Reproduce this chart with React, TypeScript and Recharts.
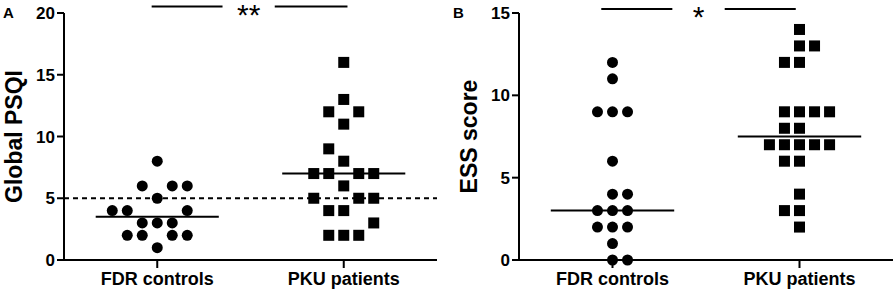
import React from "react";
import {
  ScatterChart,
  Scatter,
  XAxis,
  YAxis,
  ReferenceLine,
  ReferenceDot,
  Label,
} from "recharts";

const groups = ["FDR controls", "PKU patients"];

// panel A: global PSQI (value + column within the dot stack)
const fdrPsqi = [8, 6, 6, 6, 5, 4, 4, 4, 3, 3, 3, 2, 2, 2, 2, 1];
const fdrPsqiCol = [0, -1, 1, 2, 0, -3, -2, 2, -1, 0, 1, -2, -1, 1, 2, 0];
const pkuPsqi = [16, 13, 12, 12, 11, 9, 8, 7, 7, 7, 7, 6, 5, 5, 5, 4, 4, 3, 2, 2, 2];
const pkuPsqiCol = [0, 0, -1, 1, 0, -1, 0, -2, -1, 1, 2, 0, -2, 1, 2, -1, 0, 2, -1, 0, 1];
const psqiMedians = [3.5, 7];
const psqiCutoff = 5;
const psqiTicks = [0, 5, 10, 15, 20];

// panel B: ESS score
const fdrEss = [12, 11, 9, 9, 9, 6, 4, 4, 3, 3, 3, 2, 2, 2, 1, 0, 0];
const fdrEssCol = [0, 0, -1, 0, 1, 0, 0, 1, -1, 0, 1, -1, 0, 1, 0, 0, 1];
const pkuEss = [14, 13, 13, 12, 12, 9, 9, 9, 9, 8, 8, 7, 7, 7, 7, 7, 6, 6, 4, 3, 3, 2];
const pkuEssCol = [0, 0, 1, -1, 0, -1, 0, 1, 2, -1, 0, -2, -1, 0, 1, 2, -1, 0, 0, -1, 0, 0];
const essMedians = [3, 7.5];
const essTicks = [0, 5, 10, 15];

const FONT = "'Liberation Sans', Arial, sans-serif";
const STEP = 0.0804; // one dot column, in x units
const HALF = 0.33; // half width of the median bar

const toPoints = (vals: number[], cols: number[], g: number) =>
  vals.map((v, i) => ({ x: g + 0.5 + cols[i] * STEP, y: v }));

const Dot = (p: any) => <circle cx={p.cx} cy={p.cy} r={5.5} fill="#000" />;
const Sq = (p: any) => (
  <rect x={p.cx - 5.5} y={p.cy - 5.5} width={11} height={11} fill="#000" />
);

const YTitle = (props: any) => {
  const vb = props.viewBox || {};
  const x = vb.x + vb.width - 42;
  const cy = vb.y + vb.height / 2;
  return (
    <text
      x={x}
      y={cy}
      transform={`rotate(-90 ${x} ${cy})`}
      textAnchor="middle"
      fontFamily={FONT}
      fontWeight="bold"
      fontSize={23}
      fill="#000"
    >
      {props.text}
    </text>
  );
};

// asterisks sit just under the bracket line
const Stars = (props: any) => {
  const vb = props.viewBox || {};
  return (
    <text
      x={vb.x}
      y={vb.y + 18}
      textAnchor="middle"
      fontFamily={FONT}
      fontSize={30}
      fill="#000"
    >
      {props.text}
    </text>
  );
};

interface PanelProps {
  letter: string;
  yTitle: string;
  ticks: number[];
  ctrl: { x: number; y: number }[];
  pku: { x: number; y: number }[];
  medians: number[];
  cutoff?: number;
  sig: string;
  sigY: number;
  sigX: number[];
  yWidth: number;
  right: number;
  left: number;
}

const Panel: React.FC<PanelProps> = (p) => {
  const top = p.ticks[p.ticks.length - 1];
  const tickStyle = { fill: "#000", fontSize: 17, fontWeight: "bold", fontFamily: FONT };
  return (
    <div style={{ position: "absolute", left: p.left, top: 0, width: 448, height: 293 }}>
      <ScatterChart
        width={448}
        height={293}
        margin={{ top: 13, right: p.right, bottom: 0, left: 0 }}
      >
        <XAxis
          type="number"
          dataKey="x"
          domain={[0, 2]}
          ticks={[0.5, 1.5]}
          tickFormatter={(v: number) => groups[Math.floor(v)]}
          axisLine={{ stroke: "#000", strokeWidth: 2 }}
          tickLine={{ stroke: "#000", strokeWidth: 2 }}
          tickSize={8}
          tickMargin={4}
          height={33}
          tick={{ ...tickStyle, fontSize: 18 }}
          allowDataOverflow
        />
        <YAxis
          type="number"
          dataKey="y"
          domain={[0, top]}
          ticks={p.ticks}
          width={p.yWidth}
          axisLine={{ stroke: "#000", strokeWidth: 2 }}
          tickLine={{ stroke: "#000", strokeWidth: 2 }}
          tickSize={7}
          tickMargin={2}
          tick={tickStyle}
        >
          <Label content={(lp: any) => <YTitle {...lp} text={p.yTitle} />} />
        </YAxis>
        {p.cutoff !== undefined && (
          <ReferenceLine
            y={p.cutoff}
            stroke="#000"
            strokeWidth={2}
            strokeDasharray="5 4"
          />
        )}
        {p.medians.map((m, g) => (
          <ReferenceLine
            key={g}
            segment={[
              { x: g + 0.5 - HALF, y: m },
              { x: g + 0.5 + HALF, y: m },
            ]}
            stroke="#000"
            strokeWidth={2}
          />
        ))}
        <ReferenceLine
          segment={[
            { x: p.sigX[0], y: p.sigY },
            { x: p.sigX[1], y: p.sigY },
          ]}
          stroke="#000"
          strokeWidth={2}
          ifOverflow="visible"
        />
        <ReferenceLine
          segment={[
            { x: p.sigX[2], y: p.sigY },
            { x: p.sigX[3], y: p.sigY },
          ]}
          stroke="#000"
          strokeWidth={2}
          ifOverflow="visible"
        />
        <ReferenceDot
          x={(p.sigX[1] + p.sigX[2]) / 2}
          y={p.sigY}
          r={0}
          stroke="none"
          ifOverflow="visible"
        >
          <Label content={(lp: any) => <Stars {...lp} text={p.sig} />} />
        </ReferenceDot>
        <Scatter data={p.ctrl} shape={Dot} isAnimationActive={false} />
        <Scatter data={p.pku} shape={Sq} isAnimationActive={false} />
      </ScatterChart>
      <div
        style={{
          position: "absolute",
          left: p.left === 0 ? 3 : 5,
          top: 5,
          fontFamily: FONT,
          fontWeight: "bold",
          fontSize: 15,
          lineHeight: "15px",
        }}
      >
        {p.letter}
      </div>
    </div>
  );
};

export default function App() {
  return (
    <div
      style={{
        position: "absolute",
        left: 0,
        top: 0,
        width: 896,
        height: 293,
        background: "#fff",
      }}
    >
      <Panel
        letter="A"
        yTitle="Global PSQI"
        ticks={psqiTicks}
        ctrl={toPoints(fdrPsqi, fdrPsqiCol, 0)}
        pku={toPoints(pkuPsqi, pkuPsqiCol, 1)}
        medians={psqiMedians}
        cutoff={psqiCutoff}
        sig="**"
        sigY={20.52}
        sigX={[0.47, 0.85, 1.13, 1.52]}
        yWidth={64}
        right={11}
        left={0}
      />
      <Panel
        letter="B"
        yTitle="ESS score"
        ticks={essTicks}
        ctrl={toPoints(fdrEss, fdrEssCol, 0)}
        pku={toPoints(pkuEss, pkuEssCol, 1)}
        medians={essMedians}
        sig="*"
        sigY={15.24}
        sigX={[0.44, 0.82, 1.1, 1.48]}
        yWidth={71}
        right={3}
        left={448}
      />
    </div>
  );
}
